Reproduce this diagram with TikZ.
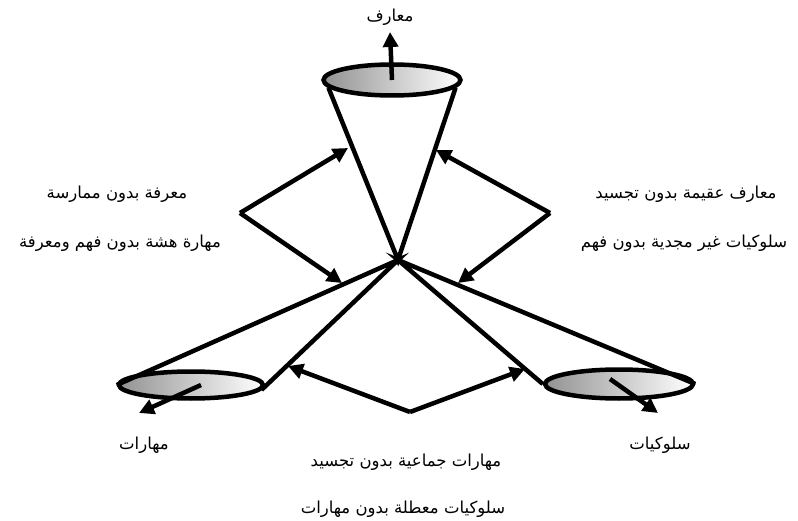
\documentclass[tikz,border=0pt]{standalone}
\usepackage{fontspec}
\newfontfamily\arabicfont[Script=Arabic]{DejaVu Sans}
\TeXXeTstate=1
\usetikzlibrary{arrows.meta,shapes.geometric}

\tikzset{
  cup/.style={ellipse, draw, line width=4.5pt, inner sep=0pt, left color=gray!85, right color=white},
  cone/.style={line width=4.5pt},
  bigarrow/.style={line width=4.5pt, -{Triangle[length=15pt,width=15pt]}},
  lbl/.style={font=\arabicfont\fontsize{16.5}{19}\selectfont, inner sep=0pt}
}

\begin{document}
\begin{tikzpicture}[x=1pt,y=-1pt]
                \useasboundingbox (0,0) rectangle (798,521);

                % Nodes
                \node[cup, minimum width=137, minimum height=31] (top) at (392,80) {};
                \node[cup, minimum width=144, minimum height=27] (skills) at (191,385) {};
                \node[cup, minimum width=148, minimum height=29] (behav) at (619,384) {};
                \coordinate (apex) at (398,260);

                \node[lbl] (topname) at (390,17) {\beginR معارف\endR};
                \node[lbl] (skillsname) at (144,445) {\beginR مهارات\endR};
                \node[lbl] (behavname) at (660,445) {\beginR سلوكيات\endR};

                \node[lbl] (l1) at (117,194) {\beginR معرفة بدون ممارسة\endR};
                \node[lbl] (l2) at (120,243) {\beginR مهارة هشة بدون فهم ومعرفة\endR};
                \node[lbl] (r1) at (686,194) {\beginR معارف عقيمة بدون تجسيد\endR};
                \node[lbl] (r2) at (684,243) {\beginR سلوكيات غير مجدية بدون فهم\endR};
                \node[lbl] (b1) at (406,462) {\beginR مهارات جماعية بدون تجسيد\endR};
                \node[lbl] (b2) at (403,509) {\beginR سلوكيات معطلة بدون مهارات\endR};

                % Arrow ends
                \coordinate (lv) at (240,213);
                \coordinate (rv) at (550,213);
                \coordinate (bv) at (410,412);
                \coordinate (lup) at (348,148);
                \coordinate (ldown) at (342,283);
                \coordinate (rup) at (436,150);
                \coordinate (rdown) at (458,283);
                \coordinate (bleft) at (288,366);
                \coordinate (bright) at (525,369);
                \coordinate (toptip) at (390,32);
                \coordinate (skillstip) at (139,413);
                \coordinate (behavtip) at (658,413);

                % Edges
                \draw[cone] (top.187)--(apex)--(top.-7);
                \draw[cone] (skills.west)--(apex)--(skills.-4);
                \draw[cone] (behav.west)--(apex)--(behav.east);
                \draw[bigarrow] (top.center)--(toptip);
                \draw[bigarrow] ([xshift=10pt]skills.center)--(skillstip);
                \draw[bigarrow] ([xshift=-9pt,yshift=5pt]behav.center)--(behavtip);
                \draw[bigarrow] (lv)--(lup);
                \draw[bigarrow] (lv)--(ldown);
                \draw[bigarrow] (rv)--(rup);
                \draw[bigarrow] (rv)--(rdown);
                \draw[bigarrow] (bv)--(bleft);
                \draw[bigarrow] (bv)--(bright);
            \end{tikzpicture}
\end{document}
